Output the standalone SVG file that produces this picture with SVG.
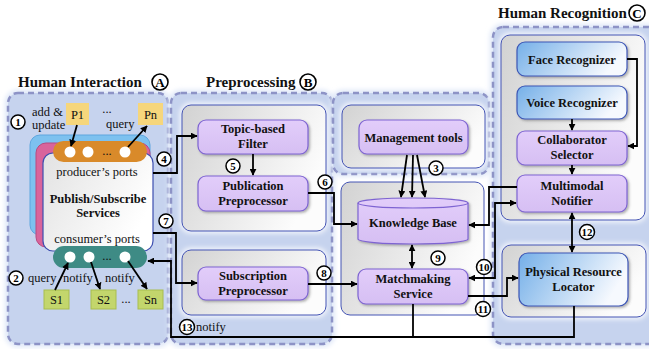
<svg xmlns="http://www.w3.org/2000/svg" width="649" height="349" viewBox="0 0 649 349">
<defs>
<linearGradient id="gray" x1="0" y1="0" x2="1" y2="0.4">
<stop offset="0" stop-color="#d2d2d2"/><stop offset="1" stop-color="#fcfcfc"/>
</linearGradient>
<linearGradient id="white" x1="0" y1="0" x2="1" y2="0.5">
<stop offset="0" stop-color="#e2e2e2"/><stop offset="1" stop-color="#ffffff"/>
</linearGradient>
<linearGradient id="purple" x1="0" y1="0" x2="0" y2="1">
<stop offset="0" stop-color="#e2cdfa"/><stop offset="1" stop-color="#d6bff3"/>
</linearGradient>
<linearGradient id="blue" x1="0" y1="0" x2="1" y2="0.3">
<stop offset="0" stop-color="#74afe8"/><stop offset="1" stop-color="#f6f9fe"/>
</linearGradient>
<filter id="glow" x="-10%" y="-10%" width="120%" height="120%">
<feGaussianBlur stdDeviation="2.5"/>
</filter>
<filter id="shadow" x="-10%" y="-10%" width="130%" height="140%">
<feDropShadow dx="1.5" dy="1.5" stdDeviation="1.2" flood-color="#555" flood-opacity="0.45"/>
</filter>
<marker id="arr" viewBox="0 0 10 10" refX="9" refY="5" markerWidth="7" markerHeight="7" markerUnits="userSpaceOnUse" orient="auto-start-reverse">
<path d="M0,0 L10,5 L0,10 Z" fill="#000"/>
</marker>
</defs>
<style>
.region{fill:#c6d3ee;stroke:#8d93c6;stroke-width:2.5;stroke-dasharray:6 4}
.halo{fill:none;stroke:#dde6f7;stroke-width:6;filter:url(#glow)}
.gbox{fill:url(#gray);stroke:#4454b4;stroke-width:1}
.ghalo{fill:none;stroke:#ffffff;stroke-width:4;filter:url(#glow)}
.pbox{fill:url(#purple);stroke:#7e64d2;stroke-width:1.2;filter:url(#shadow)}
.bbox{fill:url(#blue);stroke:#3c56b6;stroke-width:1.2;filter:url(#shadow)}
.t{font-family:"Liberation Serif",serif;font-size:12.5px;fill:#111}
.b{font-weight:bold;text-anchor:middle}
.title{font-family:"Liberation Serif",serif;font-size:15px;font-weight:bold;fill:#111}
.num{fill:#fff;stroke:#000;stroke-width:1.5}
.nt{font-family:"Liberation Serif",serif;font-size:11px;font-weight:bold;text-anchor:middle;fill:#000}
.let{fill:#fff;stroke:#000;stroke-width:1.6}
.lt{font-family:"Liberation Serif",serif;font-size:13px;font-weight:bold;text-anchor:middle;fill:#000}
.c{fill:none;stroke:#000;stroke-width:1.8}
.ca{fill:none;stroke:#000;stroke-width:1.8;marker-end:url(#arr)}
.cd{fill:none;stroke:#000;stroke-width:1.8;marker-start:url(#arr);marker-end:url(#arr)}
.dot{fill:#fff}
</style>

<!-- regions -->
<g id="regionA">
<rect class="halo" x="8" y="93" width="160" height="251" rx="10"/>
<rect class="region" x="8" y="93" width="160" height="251" rx="10"/>
<text class="title" x="18" y="87">Human Interaction</text>
<circle class="let" cx="160" cy="82" r="8"/><text class="lt" x="160" y="86.5">A</text>
</g>
<g id="regionB">
<rect class="halo" x="171" y="93" width="161" height="251" rx="10"/>
<rect class="region" x="171" y="93" width="161" height="251" rx="10"/>
<text class="title" x="206" y="87">Preprocessing</text>
<circle class="let" cx="308" cy="82" r="8"/><text class="lt" x="308" y="86.5">B</text>
</g>
<g id="regionM">
<rect class="halo" x="333" y="93" width="156" height="81" rx="10"/>
<rect class="region" x="333" y="93" width="156" height="81" rx="10"/>
</g>
<g id="regionC">
<rect class="halo" x="493" y="27" width="165" height="317" rx="10"/>
<rect class="region" x="493" y="27" width="165" height="317" rx="10"/>
<text class="title" x="498" y="18">Human Recognition</text>
<circle class="let" cx="637" cy="13" r="8"/><text class="lt" x="637" y="17.5">C</text>
</g>

<!-- gray containers -->
<g id="containers">
<rect class="ghalo" x="182" y="105" width="144" height="126" rx="9"/>
<rect class="gbox" x="182" y="105" width="144" height="126" rx="9"/>
<rect class="ghalo" x="182" y="250" width="144" height="65" rx="9"/>
<rect class="gbox" x="182" y="250" width="144" height="65" rx="9"/>
<rect class="ghalo" x="342" y="105" width="143" height="63" rx="9"/>
<rect class="gbox" x="342" y="105" width="143" height="63" rx="9"/>
<rect class="ghalo" x="341" y="182" width="143" height="133" rx="9"/>
<rect class="gbox" x="341" y="182" width="143" height="133" rx="9"/>
<rect class="ghalo" x="501" y="35" width="144" height="185" rx="9"/>
<rect class="gbox" x="501" y="35" width="144" height="185" rx="9"/>
<rect class="ghalo" x="502" y="245" width="144" height="72" rx="9"/>
<rect class="gbox" x="502" y="245" width="144" height="72" rx="9"/>
</g>

<!-- Human interaction contents -->
<g id="pubsub">
<rect x="30" y="135" width="120" height="100" rx="10" fill="#7dc1ef" stroke="#5ea6df" stroke-width="1"/>
<rect x="36" y="143" width="114" height="104" rx="10" fill="#d9649b" stroke="#b84a80" stroke-width="1"/>
<rect x="43" y="153" width="110" height="98" rx="10" fill="url(#white)" stroke="#3d4fb0" stroke-width="1.2"/>
<text class="t" x="97" y="176" text-anchor="middle">producer’s ports</text>
<text class="t b" x="98" y="203" font-size="13px">Publish/Subscribe</text>
<text class="t b" x="98" y="217" font-size="13px">Services</text>
<text class="t" x="97" y="243" text-anchor="middle">consumer’s ports</text>
</g>
<g id="producer-ports">
<rect x="53" y="141" width="94" height="21" rx="10.5" fill="#d98a2a"/>
<circle class="dot" cx="70" cy="152" r="5.5"/>
<circle class="dot" cx="88" cy="152" r="5.5"/>
<text class="t" x="107" y="155" text-anchor="middle" font-size="11px">...</text>
<circle class="dot" cx="125" cy="152" r="5.5"/>
</g>
<g id="consumer-ports">
<rect x="53" y="246" width="94" height="22" rx="11" fill="#3e8b85"/>
<circle class="dot" cx="70" cy="257" r="5.5"/>
<circle class="dot" cx="89" cy="257" r="5.5"/>
<text class="t" x="107" y="260" text-anchor="middle" font-size="11px">...</text>
<circle class="dot" cx="125" cy="257" r="5.5"/>
</g>
<g id="P1"><rect x="66" y="103" width="23" height="22" fill="#f6d67c"/><text class="t" x="77.5" y="118.5" text-anchor="middle" font-size="13px">P1</text></g>
<g id="Pn"><rect x="138" y="103" width="25" height="22" fill="#f6d67c"/><text class="t" x="150.5" y="118.5" text-anchor="middle" font-size="13px">Pn</text></g>
<g id="S1"><rect x="44" y="290" width="25" height="19" fill="#c3d66c" stroke="#a8bd4e" stroke-width="1"/><text class="t" x="56.5" y="304" text-anchor="middle" font-size="13px">S1</text></g>
<g id="S2"><rect x="91" y="290" width="25" height="19" fill="#c3d66c" stroke="#a8bd4e" stroke-width="1"/><text class="t" x="103.5" y="304" text-anchor="middle" font-size="13px">S2</text></g>
<g id="Sn"><rect x="138" y="290" width="25" height="19" fill="#c3d66c" stroke="#a8bd4e" stroke-width="1"/><text class="t" x="150.5" y="304" text-anchor="middle" font-size="13px">Sn</text></g>
<g id="labelsA">
<text class="t" x="107" y="113" text-anchor="middle" font-size="11px">...</text>
<text class="t" x="126" y="303" text-anchor="middle" font-size="11px">...</text>
<text class="t" x="32" y="115.5" font-size="12px">add &amp;</text>
<text class="t" x="32" y="128.5" font-size="12px">update</text>
<text class="t" x="106" y="128">query</text>
<text class="t" x="28" y="282">query</text>
<text class="t" x="63" y="282">notify</text>
<text class="t" x="105" y="282">notify</text>
<text class="t" x="196" y="331">notify</text>
</g>

<!-- process nodes -->
<g id="topic-filter"><rect class="pbox" x="198" y="120" width="110" height="34" rx="8"/><text class="t b" x="253" y="133">Topic-based</text><text class="t b" x="253" y="148">Filter</text></g>
<g id="pub-pre"><rect class="pbox" x="198" y="176" width="110" height="35" rx="8"/><text class="t b" x="253" y="190">Publication</text><text class="t b" x="253" y="205">Preprocessor</text></g>
<g id="sub-pre"><rect class="pbox" x="198" y="267" width="110" height="33" rx="8"/><text class="t b" x="253" y="280">Subscription</text><text class="t b" x="253" y="295">Preprocessor</text></g>
<g id="mgmt"><rect class="pbox" x="359" y="120" width="109" height="34" rx="8"/><text class="t b" x="413.5" y="141.5">Management tools</text></g>
<g id="kb">
<path d="M358,203 A55,5 0 0 1 468,203 V239 A55,5 0 0 1 358,239 Z" fill="url(#purple)" stroke="#7e64d2" stroke-width="1.2" filter="url(#shadow)"/>
<path d="M358,203 A55,5 0 0 0 468,203" fill="none" stroke="#7e64d2" stroke-width="1.2"/>
<text class="t b" x="413" y="227">Knowledge Base</text>
</g>
<g id="matchmaking"><rect class="pbox" x="358" y="269" width="110" height="35" rx="8"/><text class="t b" x="413" y="283">Matchmaking</text><text class="t b" x="413" y="298">Service</text></g>
<g id="face"><rect class="bbox" x="517" y="42" width="110" height="34" rx="8"/><text class="t b" x="572" y="63.5">Face Recognizer</text></g>
<g id="voice"><rect class="bbox" x="517" y="86" width="110" height="33" rx="8"/><text class="t b" x="572" y="107">Voice Recognizer</text></g>
<g id="collab"><rect class="pbox" x="517" y="131" width="110" height="34" rx="8"/><text class="t b" x="572" y="144">Collaborator</text><text class="t b" x="572" y="159">Selector</text></g>
<g id="notifier"><rect class="pbox" x="517" y="175" width="110" height="37" rx="8"/><text class="t b" x="572" y="190">Multimodal</text><text class="t b" x="572" y="205">Notifier</text></g>
<g id="locator"><rect class="bbox" x="519" y="253" width="109" height="53" rx="9"/><text class="t b" x="573.5" y="276">Physical Resource</text><text class="t b" x="573.5" y="291">Locator</text></g>

<!-- connectors -->
<g id="connectors">
<line class="ca" x1="77" y1="125" x2="71" y2="146"/>
<line class="ca" x1="128" y1="147" x2="147" y2="126"/>
<line class="ca" x1="55" y1="290" x2="68" y2="263"/>
<line class="ca" x1="91" y1="262" x2="100" y2="289"/>
<line class="ca" x1="128" y1="261" x2="147" y2="289"/>
<path class="ca" d="M153,173 H177 V136 H197"/>
<path class="ca" d="M253,154 V175"/>
<path class="ca" d="M308,193 H334 V224 H357"/>
<line class="ca" x1="407" y1="155" x2="401" y2="197"/>
<line class="ca" x1="413" y1="155" x2="412" y2="197"/>
<line class="ca" x1="417" y1="155" x2="425" y2="197"/>
<path class="ca" d="M153,233 H176 V283 H197"/>
<path class="ca" d="M308,284 H357"/>
<path class="cd" d="M412,245 V268"/>
<path class="ca" d="M517,187 H489 V225 H469"/>
<path class="cd" d="M469,278 H495 V203 H516"/>
<path class="ca" d="M468,296 H507 V278 H518"/>
<path class="cd" d="M572,213 V252"/>
<path class="ca" d="M572,119 V130"/>
<path class="ca" d="M572,165 V174"/>
<path class="ca" d="M627,59 H637 V146 H628"/>
<path class="ca" d="M574,306 V337 H171 V261 H148"/>
<path class="c" d="M413,304 V337"/>
</g>

<!-- step numbers -->
<g id="steps">
<circle class="num" cx="18" cy="122" r="7"/><text class="nt" x="18" y="126">1</text>
<circle class="num" cx="16" cy="278" r="7"/><text class="nt" x="16" y="282">2</text>
<circle class="num" cx="436" cy="168" r="7"/><text class="nt" x="436" y="172">3</text>
<circle class="num" cx="164" cy="159" r="7"/><text class="nt" x="164" y="163">4</text>
<circle class="num" cx="233" cy="166" r="7"/><text class="nt" x="233" y="170">5</text>
<circle class="num" cx="325" cy="182" r="7"/><text class="nt" x="325" y="186">6</text>
<circle class="num" cx="166" cy="221" r="7"/><text class="nt" x="166" y="225">7</text>
<circle class="num" cx="324" cy="273" r="7"/><text class="nt" x="324" y="277">8</text>
<circle class="num" cx="438" cy="258" r="7"/><text class="nt" x="438" y="262">9</text>
<circle class="num" cx="484" cy="267" r="7.5"/><text class="nt" x="484" y="271" font-size="10.5px">10</text>
<circle class="num" cx="483" cy="309" r="7.5"/><text class="nt" x="483" y="313" font-size="10.5px">11</text>
<circle class="num" cx="587" cy="232" r="7.5"/><text class="nt" x="587" y="236" font-size="10.5px">12</text>
<circle class="num" cx="187" cy="327" r="7.5"/><text class="nt" x="187" y="331" font-size="10.5px">13</text>
</g>
</svg>
